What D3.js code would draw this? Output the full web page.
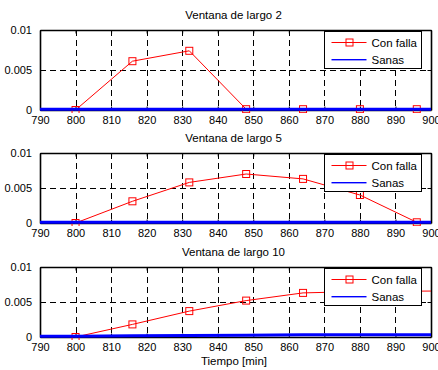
<!DOCTYPE html>
<html><head><meta charset="utf-8">
<script src="https://cdn.jsdelivr.net/npm/d3@7"></script>
<style>
body{margin:0;background:#fff}
text{font-family:Arial,"Liberation Sans",sans-serif;fill:#000}
</style>
</head><body>
<svg id="chart" width="438" height="370"></svg>
<script>
// Sample times (minutes) for the faulty-window series
const tiempo = [800, 816, 832, 848, 864, 880, 896, 912];
// Faulty ("Con falla") values per window length
const conFalla2  = [0, 0.0061, 0.0074, 0.0001, 0.0001, 0.0001, 0.0001, 0.0001];
const conFalla5  = [0, 0.0031, 0.0058, 0.0070, 0.0063, 0.0040, 0.0001, 0.0];
const conFalla10 = [0, 0.0018, 0.0037, 0.0052, 0.0063, 0.0065, 0.00655, 0.0066];
// Healthy ("Sanas") series
const tiempoSanas = [784, 800, 816, 832, 848, 864, 880, 896, 912];
const sanas2  = [0, 0, 0, 0, 0, 0, 0, 0, 0];
const sanas5  = [0, 0, 0, 0, 0, 0, 0, 0, 0];
const sanas10 = [0, 0, 0.00005, 0.0001, 0.00015, 0.0002, 0.0002, 0.0002, 0.0002];
// Axis ticks and labels
const xTicks = [790, 800, 810, 820, 830, 840, 850, 860, 870, 880, 890, 900];
const yTicks = [0, 0.005, 0.01];
const yTickLabels = ["0", "0.005", "0.01"];
const titulos = ["Ventana de largo 2", "Ventana de largo 5", "Ventana de largo 10"];
const leyenda = ["Con falla", "Sanas"];
const xLabel = "Tiempo [min]";

const panels = [
  {top: 30,  bottom: 110, title: titulos[0], falla: conFalla2,  sanas: sanas2},
  {top: 153, bottom: 223, title: titulos[1], falla: conFalla5,  sanas: sanas5},
  {top: 267, bottom: 337, title: titulos[2], falla: conFalla10, sanas: sanas10}
];

const left = 40, right = 431;
const svg = d3.select("#chart");
svg.append("rect").attr("width", 438).attr("height", 370).attr("fill", "#fff");

const x = d3.scaleLinear().domain([790, 900]).range([left, right]);

panels.forEach((p, i) => {
  const y = d3.scaleLinear().domain([0, 0.01]).range([p.bottom, p.top]);
  const g = svg.append("g");
  const clipId = "clip" + i;
  g.append("clipPath").attr("id", clipId)
    .append("rect").attr("x", left).attr("y", p.top - 3)
    .attr("width", right - left).attr("height", p.bottom - p.top + 6);

  // dashed grid
  g.append("g").selectAll("line").data(xTicks.slice(1, -1)).join("line")
    .attr("x1", d => Math.round(x(d)) + 0.5).attr("x2", d => Math.round(x(d)) + 0.5)
    .attr("y1", p.top).attr("y2", p.bottom)
    .attr("stroke", "#000").attr("stroke-width", 1).attr("stroke-dasharray", "6,4");
  g.append("g").selectAll("line").data(yTicks.slice(1, -1)).join("line")
    .attr("x1", left).attr("x2", right)
    .attr("y1", d => Math.round(y(d)) + 0.5).attr("y2", d => Math.round(y(d)) + 0.5)
    .attr("stroke", "#000").attr("stroke-width", 1).attr("stroke-dasharray", "6,4");

  // axes box with inward ticks on all sides
  const axB = g.append("g").attr("transform", `translate(0,${p.bottom})`)
    .call(d3.axisBottom(x).tickValues(xTicks).tickSizeInner(-3.5).tickSizeOuter(0).tickPadding(6).tickFormat(d3.format("d")));
  const axT = g.append("g").attr("transform", `translate(0,${p.top})`)
    .call(d3.axisTop(x).tickValues(xTicks).tickSizeInner(-3.5).tickSizeOuter(0).tickFormat(""));
  const axL = g.append("g").attr("transform", `translate(${left},0)`)
    .call(d3.axisLeft(y).tickValues(yTicks).tickSizeInner(-3.5).tickSizeOuter(0).tickPadding(8)
      .tickFormat((d, k) => yTickLabels[k]));
  const axR = g.append("g").attr("transform", `translate(${right},0)`)
    .call(d3.axisRight(y).tickValues(yTicks).tickSizeInner(-3.5).tickSizeOuter(0).tickFormat(""));
  [axB, axT, axL, axR].forEach(a => {
    a.select(".domain").attr("stroke", "#000").attr("stroke-width", 1.6);
    a.selectAll(".tick line").attr("stroke", "#000");
    a.selectAll("text").style("font-size", "11px").attr("fill", "#000")
      .style("font-family", "Arial, 'Liberation Sans', sans-serif");
  });

  // title
  g.append("text").attr("x", (left + right) / 2 - 2).attr("y", p.top - 11)
    .attr("text-anchor", "middle").style("font-size", "11.5px").text(p.title);

  const plot = g.append("g").attr("clip-path", `url(#${clipId})`);
  const lineF = d3.line().x((d, k) => x(tiempo[k])).y(d => y(d));
  plot.append("path").datum(p.falla).attr("d", lineF)
    .attr("fill", "none").attr("stroke", "#ff0000").attr("stroke-width", 1);
  plot.append("g").selectAll("rect").data(p.falla).join("rect")
    .attr("x", (d, k) => x(tiempo[k]) - 3.5).attr("y", d => y(d) - 3.5)
    .attr("width", 7).attr("height", 7)
    .attr("fill", "none").attr("stroke", "#ff0000").attr("stroke-width", 1);

  const lineS = d3.line().x((d, k) => x(tiempoSanas[k])).y(d => y(d) - 0.8);
  plot.append("path").datum(p.sanas).attr("d", lineS)
    .attr("fill", "none").attr("stroke", "#0000ff").attr("stroke-width", 3);

  // legend
  const lg = g.append("g").attr("transform", `translate(324.5,${p.top + 1.5})`);
  lg.append("rect").attr("width", 97).attr("height", 37)
    .attr("fill", "#fff").attr("stroke", "#000").attr("stroke-width", 1);
  const rows = [11, 28];
  lg.append("line").attr("x1", 7).attr("x2", 42).attr("y1", rows[0]).attr("y2", rows[0])
    .attr("stroke", "#ff0000").attr("stroke-width", 1);
  lg.append("rect").attr("x", 21.5).attr("y", rows[0] - 3.5).attr("width", 7).attr("height", 7)
    .attr("fill", "none").attr("stroke", "#ff0000");
  lg.append("rect").attr("x", 7).attr("y", rows[1] - 0.5).attr("width", 35).attr("height", 1.4)
    .attr("fill", "#0000ff");
  leyenda.forEach((t, k) => {
    lg.append("text").attr("x", 47).attr("y", rows[k] + 4).style("font-size", "11.5px").text(t);
  });
});

svg.append("text").attr("x", 234).attr("y", 365).attr("text-anchor", "middle")
  .style("font-size", "11.5px").text(xLabel);
</script>
</body></html>
